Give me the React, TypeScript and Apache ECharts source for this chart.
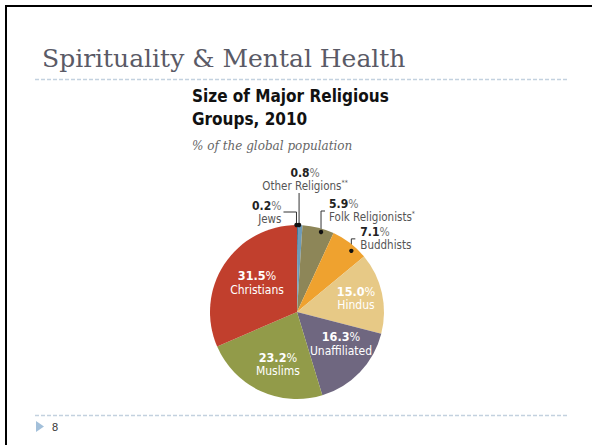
import React, { useEffect, useRef } from "react";
import * as echarts from "echarts";

// ---- data ----
const categories = [
  "Jews",
  "Other Religions",
  "Folk Religionists",
  "Buddhists",
  "Hindus",
  "Unaffiliated",
  "Muslims",
  "Christians",
];
const shares = [0.2, 0.8, 5.9, 7.1, 15.0, 16.3, 23.2, 31.5];
const nameMarks = ["", "**", "*", "", "", "", "", ""];
const slideTitle = "Spirituality & Mental Health";
const chartTitle = "Size of Major Religious\nGroups, 2010";
const chartSubtitle = "% of the global population";
const pageNumber = "8";

// ---- styles ----
const sliceColors = [
  "#3f7598",
  "#6e9bb8",
  "#8d8658",
  "#efa22f",
  "#e7c986",
  "#6f6780",
  "#929b49",
  "#c13f2d",
];
const FONT =
  '"Liberation Sans Narrow", "DejaVu Sans Condensed", "Arial Narrow", "Liberation Sans", sans-serif';
const CX = 297;
const CY = 312;
const R = 87;

// inside label placement: fraction of radius and angular nudge (deg), by slice index
const insideLabels: Record<number, { rf: number; da: number }> = {
  4: { rf: 0.697, da: -0.7 },
  5: { rf: 0.625, da: -7.7 },
  6: { rf: 0.637, da: -4.7 },
  7: { rf: 0.568, da: 2.7 },
};
// outside leader configuration, by slice index
const leaders: Record<
  number,
  { dotR: number; da: number; rise: number; run: number; align: string; vAlign: string; dx: number; dy: number }
> = {
  0: { dotR: 1.0, da: -0.7, rise: 13, run: -13, align: "right", vAlign: "middle", dx: -2, dy: 0 },
  1: { dotR: 1.0, da: -0.8, rise: 32, run: 0, align: "center", vAlign: "bottom", dx: 6, dy: -1 },
  2: { dotR: 0.96, da: 2.5, rise: 21, run: 4, align: "left", vAlign: "top", dx: 4, dy: -14 },
  3: { dotR: 0.94, da: 4, rise: 12, run: 4, align: "left", vAlign: "top", dx: 5, dy: -13 },
};

const total = shares.reduce((a, b) => a + b, 0);
function midAngle(i: number) {
  let before = 0;
  for (let k = 0; k < i; k++) before += shares[k];
  return ((before + shares[i] / 2) / total) * Math.PI * 2;
}
function polar(r: number, a: number): [number, number] {
  return [CX + r * Math.sin(a), CY - r * Math.cos(a)];
}
const DEG = Math.PI / 180;
function leaderPoints(i: number): [number, number][] {
  const l = leaders[i];
  const dot = polar(R * l.dotR, midAngle(i) + l.da * DEG);
  const p1: [number, number] = [dot[0], dot[1] - l.rise];
  const p2: [number, number] = [p1[0] + l.run, p1[1]];
  return [dot, p1, p2];
}

export default function App() {
  const ref = useRef<HTMLDivElement>(null);
  useEffect(() => {
    if (!ref.current) return;
    const chart = echarts.init(ref.current, null, { renderer: "svg" });

    const outsideRich = {
      v: { fontFamily: FONT, fontWeight: "bold", fontSize: 12, color: "#222", lineHeight: 13 },
      p: { fontFamily: FONT, fontSize: 12, color: "#777", lineHeight: 13 },
      n: { fontFamily: FONT, fontSize: 11.5, color: "#555", lineHeight: 13 },
      s: { fontFamily: FONT, fontSize: 7, color: "#555", lineHeight: 13, verticalAlign: "top" },
    };
    const insideRich = {
      v: { fontFamily: FONT, fontWeight: "bold", fontSize: 12.5, color: "#fff", lineHeight: 14 },
      p: { fontFamily: FONT, fontSize: 12.5, color: "#fff", lineHeight: 14 },
      n: { fontFamily: FONT, fontSize: 12, color: "#fff", lineHeight: 14 },
      s: { fontFamily: FONT, fontSize: 7, color: "#fff", lineHeight: 14 },
    };

    const data = categories.map((name, i) => {
      const outside = leaders[i] != null;
      return {
        name,
        value: shares[i],
        itemStyle: { color: sliceColors[i] },
        label: {
          show: true,
          position: outside ? "outside" : "inside",
          rich: outside ? outsideRich : insideRich,
        },
        labelLine: { show: outside, lineStyle: { color: "#333", width: 1 }, smooth: false },
      };
    });

    const dots = Object.keys(leaders).map((k) => {
      const p = leaderPoints(Number(k))[0];
      return {
        type: "circle",
        shape: { cx: p[0], cy: p[1], r: 2.2 },
        style: { fill: "#111" },
        z: 100,
      };
    });

    chart.setOption({
      animation: false,
      backgroundColor: "#fff",
      title: {
        text: chartTitle,
        subtext: chartSubtitle,
        left: 192,
        top: 84,
        itemGap: 8,
        padding: 0,
        textStyle: { fontFamily: FONT, fontWeight: "bold", fontSize: 17, lineHeight: 23, color: "#111" },
        subtextStyle: {
          fontFamily: '"DejaVu Serif", serif',
          fontStyle: "italic",
          fontSize: 12,
          color: "#666",
          lineHeight: 15,
        },
      },
      series: [
        {
          type: "pie",
          center: [CX, CY],
          radius: [0, R],
          startAngle: 90,
          clockwise: true,
          avoidLabelOverlap: false,
          silent: true,
          label: {
            formatter: (p: any) => {
              const i = p.dataIndex;
              return `{v|${shares[i].toFixed(1)}}{p|%}\n{n|${categories[i]}}{s|${nameMarks[i]}}`;
            },
          },
          labelLayout: (params: any) => {
            const i = params.dataIndex;
            if (leaders[i]) {
              const l = leaders[i];
              const pts = leaderPoints(i);
              const end = pts[2];
              return {
                x: end[0] + l.dx,
                y: end[1] + l.dy,
                align: l.align,
                verticalAlign: l.vAlign,
                labelLinePoints: pts,
              };
            }
            const il = insideLabels[i];
            const pos = polar(R * il.rf, midAngle(i) + il.da * DEG);
            return { x: pos[0], y: pos[1], align: "center", verticalAlign: "middle" };
          },
          data,
        },
      ],
      graphic: [
        { type: "rect", shape: { x: 5, y: 5, width: 587, height: 2 }, style: { fill: "#000" } },
        { type: "rect", shape: { x: 5, y: 5, width: 2, height: 440 }, style: { fill: "#000" } },
        {
          type: "text",
          x: 42,
          y: 46,
          style: {
            text: slideTitle,
            fontFamily: '"DejaVu Serif", serif',
            fontSize: 25,
            fill: "#5a5a66",
            verticalAlign: "top",
          },
        },
        {
          type: "line",
          shape: { x1: 35, y1: 79.5, x2: 568, y2: 79.5 },
          style: { stroke: "#c3d1df", lineWidth: 1.5, lineDash: [4, 2] },
        },
        {
          type: "line",
          shape: { x1: 35, y1: 415.5, x2: 568, y2: 415.5 },
          style: { stroke: "#c3d1df", lineWidth: 1.5, lineDash: [4, 2] },
        },
        {
          type: "polygon",
          shape: { points: [[36, 421], [36, 432], [44, 426.5]] },
          style: { fill: "#a3c0da" },
        },
        {
          type: "text",
          x: 52,
          y: 427,
          style: {
            text: pageNumber,
            fontFamily: '"Liberation Sans", sans-serif',
            fontSize: 11,
            fill: "#333",
            verticalAlign: "middle",
          },
        },
        ...dots,
      ],
    });
    return () => chart.dispose();
  }, []);
  return (
    <div
      ref={ref}
      style={{ position: "fixed", left: 0, top: 0, width: 592, height: 445 }}
    />
  );
}
